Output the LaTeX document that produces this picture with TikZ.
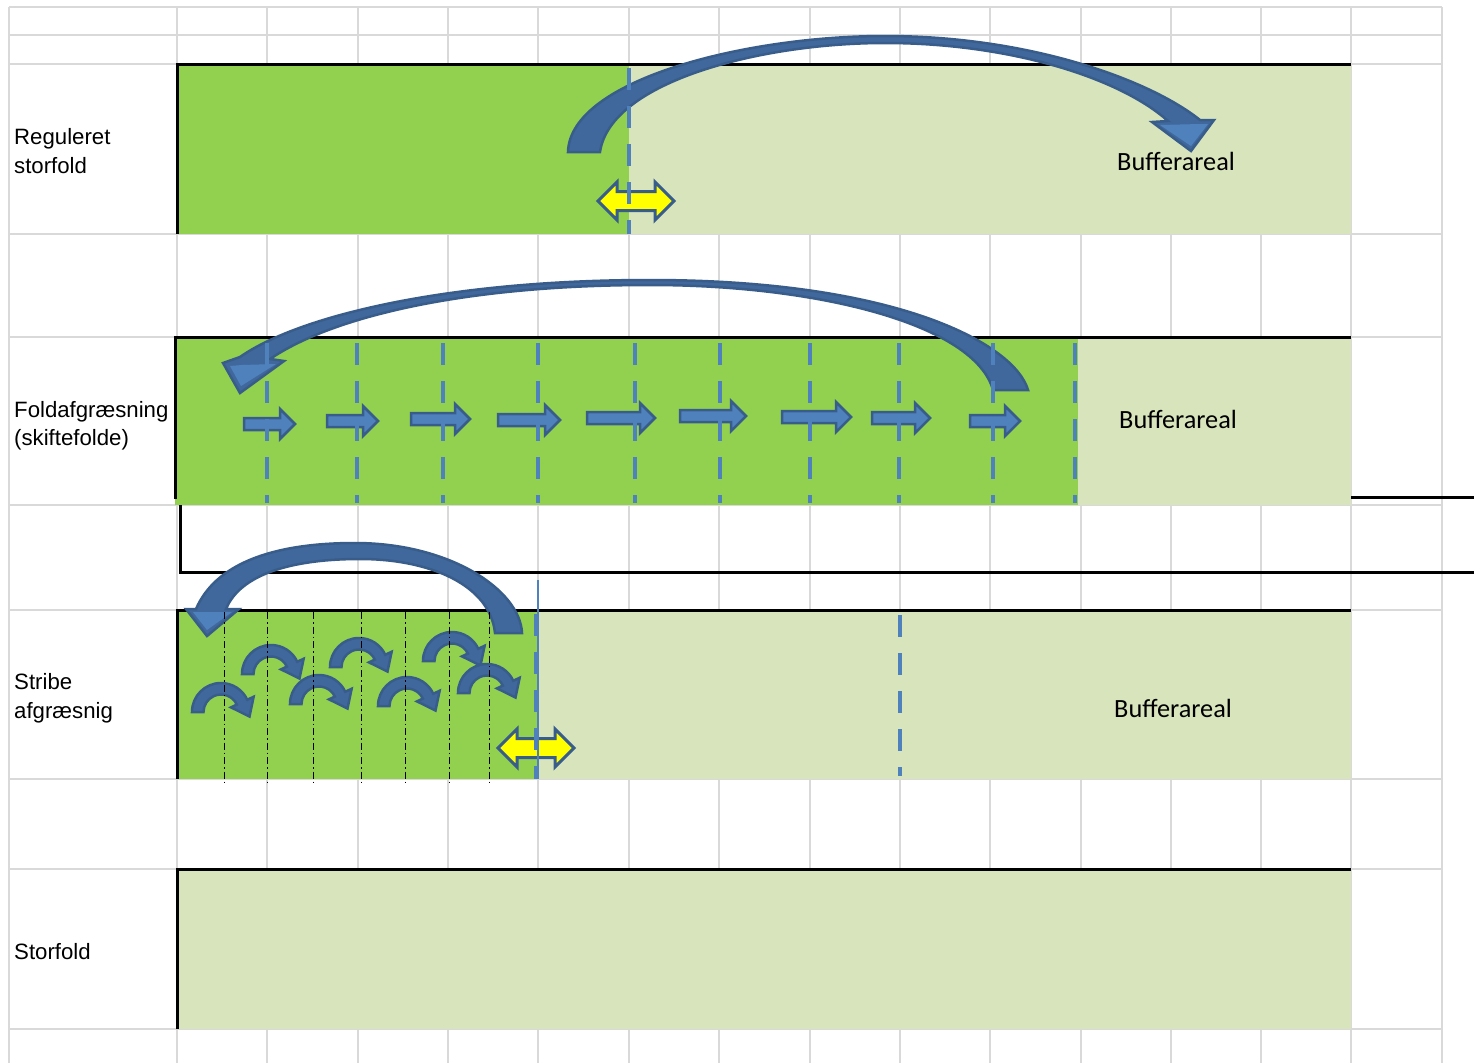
\documentclass[tikz,border=0pt]{standalone}
\usepackage{fontspec}
\setmainfont{Liberation Sans}
\newfontfamily\calib{Carlito}
\definecolor{gridc}{HTML}{D9D9D9}
\definecolor{grn}{HTML}{92D050}
\definecolor{lgrn}{HTML}{D8E4BC}
\definecolor{bdash}{HTML}{4F81BD}
\definecolor{bline}{HTML}{385D8A}
\definecolor{bfill}{HTML}{4F81BD}
\definecolor{bdark}{HTML}{41689C}
\definecolor{yel}{HTML}{FFFF00}
\tikzset{
  gridline/.style={draw=gridc, line width=2},
  blk/.style={draw=black, line width=3},
  bdashed/.style={draw=bdash, line width=4, dash pattern=on 22pt off 16pt},
  dashdot/.style={draw=black, line width=1, dash pattern=on 7pt off 3pt on 1.5pt off 3pt},
  rarrow/.style={fill=bfill, draw=bline, line width=2.5, line join=miter},
  yarrow/.style={fill=yel, draw=bline, line width=3, line join=miter},
  bigarr/.style={fill=bdark, draw=bline, line width=2.5, line join=miter},
  smallarr/.style={fill=bdark, draw=bline, line width=2.5, line join=miter},
  lbl/.style={anchor=base west, inner sep=0pt, font=\fontsize{22.2}{26}\selectfont},
  buf/.style={anchor=base west, inner sep=0pt, font=\calib\fontsize{26.3}{30}\selectfont},
  smallcurve/.pic={
    \filldraw[smallarr] (180:29) arc[start angle=180, end angle=335, radius=29]
      -- (335:36) -- (28.5,4.5) -- (335:11) -- (335:17.5)
      arc[start angle=335, end angle=180, radius=17.5] -- cycle;
  }
}
\begin{document}
\begin{tikzpicture}[x=1pt, y=-1pt]
\useasboundingbox (0,0) rectangle (1474,1063);
\fill[white] (0,0) rectangle (1474,1063);
% grid
\foreach \x in {9,177,267,358,448,538,629,719,810,900,990,1081,1171,1261,1351,1442}
  \draw[gridline] (\x,7) -- (\x,1063);
\foreach \y in {7,35,64,234,337,505,610,779,869,1029}
  \draw[gridline] (9,\y) -- (1442,\y);
% fills
\fill[grn] (177,64) rectangle (629,234);
\fill[lgrn] (629,64) rectangle (1351,234);
\fill[grn] (175,337) rectangle (1078,505);
\fill[lgrn] (1078,337) rectangle (1351,505);
\fill[grn] (177,610) rectangle (538,779);
\fill[lgrn] (538,610) rectangle (1351,779);
\fill[lgrn] (177,869) rectangle (1351,1029);
% black borders
\draw[blk] (177,234) -- (177,64) -- (1351,64);
\draw[blk] (175,499) -- (175,337) -- (1351,337);
\draw[blk] (180,505) -- (180,572) -- (1474,572);
\draw[blk] (1351,497) -- (1474,497);
\draw[blk] (177,779) -- (177,610) -- (1351,610);
\draw[blk] (177,1029) -- (177,869) -- (1351,869);
% row 1 big curved arrow
\filldraw[bigarr] (568,152) .. controls (570,80) and (745,36) .. (885,36)
  .. controls (1030,36) and (1150,80) .. (1200,120) -- (1214,120) -- (1191,151) -- (1152,122) -- (1168,121)
  .. controls (1120,78) and (1010,43) .. (885,43)
  .. controls (760,43) and (610,82) .. (600,152) -- cycle;
\fill[bfill] (1200,124) -- (1208,124) -- (1191,146) -- (1160,125) -- cycle;
% row 3 big curved arrow
\filldraw[bigarr] (1028,390) .. controls (1015,345) and (900,280) .. (650,280)
  .. controls (450,280) and (300,315) .. (240,357) -- (223,363) -- (240,393) -- (284,361) -- (270,359)
  .. controls (330,318) and (460,285) .. (650,285)
  .. controls (820,285) and (975,325) .. (993,390) -- cycle;
\fill[bfill] (242,365) -- (230,366) -- (241,386) -- (276,364) -- cycle;
% row 5 big curved arrow
\filldraw[bigarr] (522,633) .. controls (520,590) and (450,543) .. (355,543)
  .. controls (270,543) and (215,565) .. (196,609) -- (186,609) -- (207,636) -- (239,609) -- (226,609)
  .. controls (240,575) and (290,559) .. (360,559)
  .. controls (430,559) and (490,585) .. (495,633) -- cycle;
\fill[bfill] (196,612) -- (193,612) -- (207,630) -- (232,612) -- cycle;
% row 3 straight arrows
\foreach \a/\b/\y in {244/295/424, 327/378/421, 411/470/419, 498/560/420, 587/655/418, 680/746/416, 782/851/417, 872/930/418, 970/1020/421}
  \draw[rarrow] (\a,\y-6) -- (\b-15,\y-6) -- (\b-15,\y-15) -- (\b,\y) -- (\b-15,\y+15) -- (\b-15,\y+6) -- (\a,\y+6) -- cycle;
% row 5 small curved arrows
\foreach \cx/\cy in {221/712, 271/674, 319/704, 359/667, 407/706, 452/661, 487/693}
  \pic at (\cx,\cy) {smallcurve};
% yellow double arrows
\foreach \cx/\cy in {636/201, 536/748}
  \draw[yarrow] (\cx-38,\cy) -- (\cx-19,\cy-19) -- (\cx-19,\cy-9.5) -- (\cx+19,\cy-9.5) -- (\cx+19,\cy-19)
    -- (\cx+38,\cy) -- (\cx+19,\cy+19) -- (\cx+19,\cy+9.5) -- (\cx-19,\cy+9.5) -- (\cx-19,\cy+19) -- cycle;
% dashed blue lines
\draw[bdashed] (629,68) -- (629,234);
\foreach \x in {267,357,443,538,635,720,810,899,993,1075}
  \draw[bdashed] (\x,343) -- (\x,503);
\draw[bdashed] (900,615) -- (900,776);
\draw[bdashed, line width=3] (535.5,614) -- (535.5,779);
\draw[draw=bdash, line width=1.2] (538,580) -- (538,779);
% dash-dot lines row 5
\foreach \x in {224,267,313,361,405,449,489}
  \draw[dashdot] (\x,612) -- (\x,784);
% labels
\node[lbl] (l1a) at (14,144) {Reguleret};
\node[lbl] (l1b) at (14,173) {storfold};
\node[lbl] (l3a) at (14,417) {Foldafgræsning};
\node[lbl] (l3b) at (14,445) {(skiftefolde)};
\node[lbl] (l5a) at (14,689) {Stribe};
\node[lbl] (l5b) at (14,718) {afgræsnig};
\node[lbl] (l7) at (14,959) {Storfold};
\node[buf] (b1) at (1117,170) {Bufferareal};
\node[buf] (b3) at (1119,428) {Bufferareal};
\node[buf] (b5) at (1114,717) {Bufferareal};
\end{tikzpicture}
\end{document}
